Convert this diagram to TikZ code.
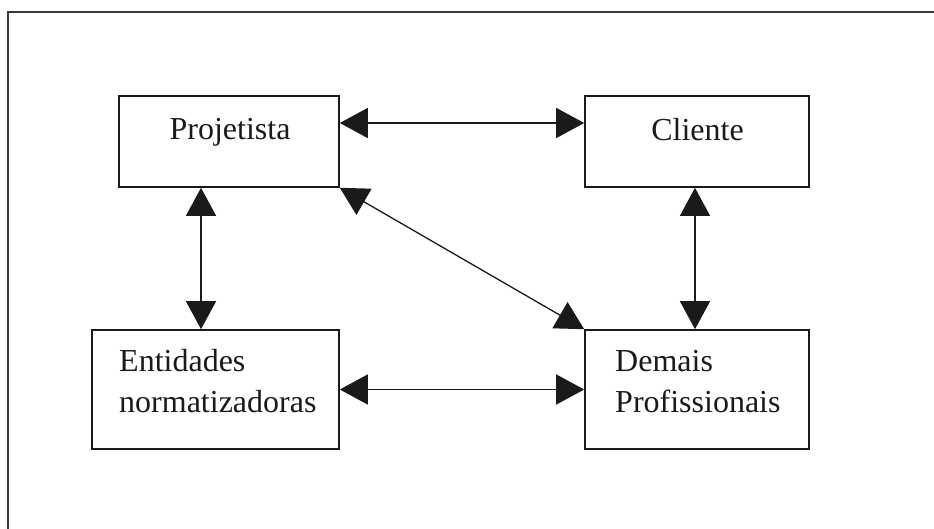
\documentclass[tikz,border=0pt]{standalone}
\usepackage{fontspec}
\setmainfont{Liberation Serif}
\usetikzlibrary{arrows.meta}
\definecolor{ink}{HTML}{1A1A1A}
\definecolor{frame}{HTML}{3A3A3A}
\tikzset{
  boxnode/.style={draw=ink, line width=1.6pt, rectangle, inner sep=0pt},
  txt/.style={inner sep=0pt, text=ink, font=\fontsize{32}{41}\selectfont},
  link/.style={draw=ink, line width=1.3pt, {Triangle[length=28pt,width=30pt]}-{Triangle[length=28pt,width=30pt]}}
}
\begin{document}
\begin{tikzpicture}[x=1pt,y=-1pt]
\useasboundingbox (0,0) rectangle (934,529);
% outer frame (only top and left edges visible)
\draw[frame, line width=1.6pt] (8,540) -- (8,12) -- (945,12);
% boxes
\node[boxnode, minimum width=220pt, minimum height=91pt] (proj) at (229,141.5) {};
\node[boxnode, minimum width=224pt, minimum height=91pt] (cli) at (697,141.5) {};
\node[boxnode, minimum width=247pt, minimum height=119pt] (ent) at (215.5,389.5) {};
\node[boxnode, minimum width=224pt, minimum height=119pt] (dem) at (697,389.5) {};
% texts
\node[txt, anchor=base] (tproj) at (230,140) {Projetista};
\node[txt, anchor=base] (tcli) at (697.5,141) {Cliente};
\node[txt, anchor=base west] (tent1) at (119,371) {Entidades};
\node[txt, anchor=base west] (tent2) at (119,412) {normatizadoras};
\node[txt, anchor=base west] (tdem1) at (615,371) {Demais};
\node[txt, anchor=base west] (tdem2) at (615,412) {Profissionais};
% connectors
\draw[link] ([yshift=18.5pt]proj.east) -- ([yshift=18.5pt]cli.west);
\draw[link] (ent.east) -- (dem.west);
\draw[link] ([xshift=-28pt]proj.south) -- ([xshift=-28pt]proj.south |- ent.north);
\draw[link] ([xshift=-2pt]cli.south) -- ([xshift=-2pt]dem.north);
\draw[link] (proj.south east) -- (dem.north west);
\end{tikzpicture}
\end{document}
